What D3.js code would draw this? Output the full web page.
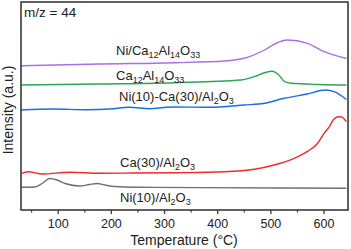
<!DOCTYPE html>
<html>
<head>
<meta charset="utf-8">
<script src="https://cdn.jsdelivr.net/npm/d3@7"></script>
<style>
  body { margin: 0; background: #fff; }
  text { font-family: "Liberation Sans", Arial, sans-serif; fill: #222; }
</style>
</head>
<body>
<script>
// Chart size
const width = 351;
const height = 249;

// Data: [temperature (°C), intensity (a.u.)]
const niAl = [[31,22.7],[57,23],[72,27],[85,31.5],[99,30],[114,26.5],[142,24],[160,25.5],[174,26.5],
  [189,25],[207,23.5],[254,22.7],[367,22.4],[517,22],[643,21.7]];
const caAl = [[32,36.7],[44,38.3],[72,36],[123,37.7],[179,36.7],[241,37],[320,37.3],[414,38.3],[470,40.7],
  [507,45],[545,51.7],[569,58.3],[589,66.7],[601,76.7],[611,83.3],[618,90],[626,93],[633,93.3],[638,91.5],[643,88.3]];
const niCaAl = [[31,100],[91,101],[155,100.3],[198,101],[235,102.7],[273,101.3],[305,102.7],[320,103],
  [382,102.7],[451,105],[489,106.7],[526,111.7],[569,116],[604,120],[620,118.3],[643,110.5]];
const c12a7 = [[31,125],[175,126],[320,127.3],[445,130],[470,133.3],[489,137.3],[504,138.7],[514,136],
  [527,128.3],[539,126.7],[592,125.5],[643,125]];
const niC12a7 = [[31,144.3],[179,146],[320,147.3],[414,149],[451,151.7],[489,160],[510,166.5],[532,170],
  [570,166.7],[601,158.3],[643,151.5]];

const xTicks = [100, 200, 300, 400, 500, 600];
const xMinor = [50, 150, 250, 350, 450, 550];

const series = [
  { data: niAl,    color: "#707070", label: [["Ni(10)/Al"],["2","sub"],["O"],["3","sub"]], lx: 120, ly: 202 },
  { data: caAl,    color: "#f2292b", label: [["Ca(30)/Al"],["2","sub"],["O"],["3","sub"]], lx: 120, ly: 167 },
  { data: niCaAl,  color: "#1c6de4", label: [["Ni(10)-Ca(30)/Al"],["2","sub"],["O"],["3","sub"]], lx: 119, ly: 101 },
  { data: c12a7,   color: "#2ba653", label: [["Ca"],["12","sub"],["Al"],["14","sub"],["O"],["33","sub"]], lx: 116, ly: 80 },
  { data: niC12a7, color: "#ab6fe3", label: [["Ni/Ca"],["12","sub"],["Al"],["14","sub"],["O"],["33","sub"]], lx: 116, ly: 55 }
];

const margin = { left: 21, right: 3, top: 2, bottom: 39 };

const svg = d3.select("body").append("svg")
  .attr("width", width)
  .attr("height", height);

const x = d3.scaleLinear().domain([31, 646]).range([margin.left, width - margin.right]);
const y = d3.scaleLinear().domain([0, 208]).range([height - margin.bottom, margin.top]);

// Lines
const line = d3.line()
  .x(d => x(d[0]))
  .y(d => y(d[1]))
  .curve(d3.curveMonotoneX);

svg.selectAll("path.curve")
  .data(series)
  .enter()
  .append("path")
  .attr("class", "curve")
  .attr("d", d => line(d.data))
  .attr("fill", "none")
  .attr("stroke", d => d.color)
  .attr("stroke-width", 1.4);

// Frame
svg.append("rect")
  .attr("x", x.range()[0])
  .attr("y", y.range()[1])
  .attr("width", x.range()[1] - x.range()[0])
  .attr("height", y.range()[0] - y.range()[1])
  .attr("fill", "none")
  .attr("stroke", "#3a3a3a")
  .attr("stroke-width", 1.6);

// X axis with major and minor ticks
const xAxis = svg.append("g")
  .attr("transform", `translate(0, ${y.range()[0]})`)
  .call(d3.axisBottom(x).tickValues(xTicks).tickSize(4).tickPadding(5));
xAxis.select(".domain").remove();
xAxis.attr("font-size", null).attr("font-family", null);
xAxis.selectAll("line").attr("stroke", "#3a3a3a").attr("stroke-width", 1.3);
xAxis.selectAll("text")
  .style("font-size", "12.5px")
  .attr("fill", "#222");

svg.append("g")
  .attr("transform", `translate(0, ${y.range()[0]})`)
  .call(d3.axisBottom(x).tickValues(xMinor).tickSize(2.5).tickFormat(""))
  .call(g => g.select(".domain").remove())
  .selectAll("line").attr("stroke", "#3a3a3a").attr("stroke-width", 1.2);

// Axis titles
svg.append("text")
  .attr("x", 184)
  .attr("y", 245)
  .attr("text-anchor", "middle")
  .style("font-size", "14px")
  .text("Temperature (°C)");

svg.append("text")
  .attr("transform", "translate(13, 110) rotate(-90)")
  .attr("text-anchor", "middle")
  .style("font-size", "14px")
  .text("Intensity (a.u.)");

svg.append("text")
  .attr("x", 24)
  .attr("y", 17)
  .style("font-size", "13.5px")
  .text("m/z = 44");

// Series labels with subscripts
series.forEach(s => {
  const t = svg.append("text")
    .attr("x", s.lx)
    .attr("y", s.ly)
    .style("font-size", "13px");
  s.label.forEach((part, i) => {
    const sp = t.append("tspan").text(part[0]);
    if (part[1] === "sub") {
      sp.style("font-size", "9px").attr("dy", 3);
    } else {
      sp.attr("dy", i > 0 ? -3 : 0);
    }
  });
});
</script>
</body>
</html>
